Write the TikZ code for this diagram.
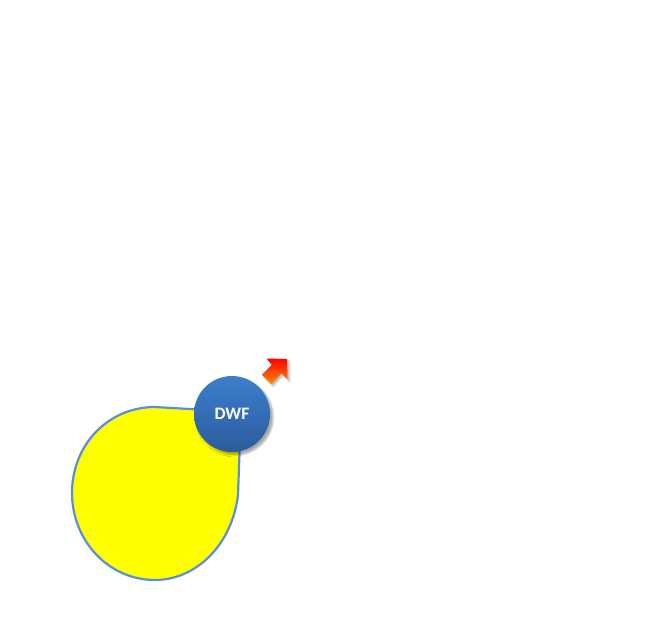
\documentclass[tikz,border=0pt]{standalone}
\usepackage{fontspec}
\setmainfont{Carlito}
\usetikzlibrary{shadows,shadows.blur}
\definecolor{edgeblue}{HTML}{5B8ED8}
\definecolor{ctop}{HTML}{3C7ECB}
\definecolor{cbot}{HTML}{2C5C9E}
\definecolor{pureyellow}{HTML}{FFFF00}
\definecolor{arrtop}{HTML}{FF0000}
\definecolor{arrbot}{HTML}{FF8C00}
\tikzset{
  blob/.style={draw=edgeblue, line width=2.2pt, fill=pureyellow},
  dwf/.style={circle, minimum size=76pt, inner sep=0pt, top color=ctop, bottom color=cbot,
    text=white, font=\bfseries\fontsize{17.5pt}{17.5pt}\selectfont,
    blur shadow={shadow xshift=3pt, shadow yshift=-3pt, shadow blur steps=6, shadow opacity=35}},
  blockarrow/.style={top color=arrtop, bottom color=arrbot, draw=none,
    blur shadow={shadow xshift=2pt, shadow yshift=-2pt, shadow blur steps=4, shadow opacity=30}}
}
\begin{document}
\begin{tikzpicture}[x=1pt,y=-1pt]
\useasboundingbox (0,0) rectangle (654,642);
\path[blob] (241,412) -- (238,495) .. controls (232,545) and (196,580) .. (155,580)
  .. controls (108,580) and (72,540) .. (72,493)
  .. controls (72,445) and (108,407) .. (155,407) -- cycle;
\node[dwf] (dwf) at (232,414) {DWF};
\path[blockarrow] (287,359) -- (287.5,379.5) -- (281.2,373.2) -- (271.2,384.2) -- (261.8,374.8) -- (271.8,364.8) -- (266.5,358.5) -- cycle;
\end{tikzpicture}
\end{document}
